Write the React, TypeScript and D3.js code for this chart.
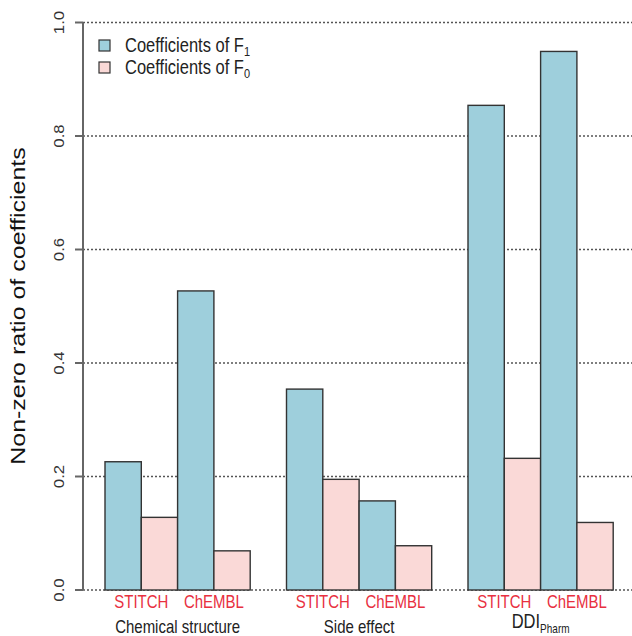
import React from "react";
import * as d3 from "d3";

// Groups of drug-feature sources, each with STITCH and ChEMBL targets
const groups = ["Chemical structure", "Side effect", "DDI"];
const targets = ["STITCH", "ChEMBL"];
// Non-zero ratio of coefficients, one value per group × target
const f1Values = [0.226, 0.527, 0.354, 0.157, 0.854, 0.949];
const f0Values = [0.128, 0.069, 0.195, 0.078, 0.232, 0.119];
const yTicks = [0, 0.2, 0.4, 0.6, 0.8, 1.0];

const W = 632;
const H = 636;
const FONT = "'Liberation Sans', Arial, sans-serif";
const BLUE = "#9ecfdc";
const PINK = "#fad9d7";
const RED = "#e8303f";
// glyphs are drawn slightly taller than wide
const STRETCH = 1.2;

export default function App() {
  // bar slots: each group = leading gap (1) + 4 bars
  const x = d3.scaleLinear().domain([0, 15]).range([68.7, 613.2]);
  const y = d3.scaleLinear().domain([0, 1]).range([590, 22.5]);
  const axisX = 83;

  const bars: { v: number; fill: string; slot: number }[] = [];
  groups.forEach((_, g) => {
    targets.forEach((_, t) => {
      const idx = g * 2 + t;
      const base = g * 5 + 1 + t * 2;
      bars.push({ v: f1Values[idx], fill: BLUE, slot: base });
      bars.push({ v: f0Values[idx], fill: PINK, slot: base + 1 });
    });
  });

  return (
    <svg
      width={W}
      height={H}
      style={{ position: "absolute", left: 0, top: 0, background: "#fff" }}
      fontFamily={FONT}
    >
      {/* dotted gridlines behind bars */}
      {yTicks.map((t) => (
        <line
          key={"g" + t}
          x1={axisX}
          x2={W}
          y1={y(t)}
          y2={y(t)}
          stroke="#555"
          strokeWidth={1.3}
          strokeDasharray="2,2"
        />
      ))}

      {bars.map((b, i) => (
        <rect
          key={i}
          x={x(b.slot)}
          y={y(b.v)}
          width={x(b.slot + 1) - x(b.slot)}
          height={y(0) - y(b.v)}
          fill={b.fill}
          stroke="#333"
          strokeWidth={1.4}
        />
      ))}

      {/* y axis */}
      <line x1={axisX} x2={axisX} y1={y(0)} y2={y(1)} stroke="#666" strokeWidth={2} />
      {yTicks.map((t) => (
        <g key={"t" + t}>
          <line x1={axisX - 8} x2={axisX} y1={y(t)} y2={y(t)} stroke="#666" strokeWidth={2} />
          <text
            transform={`translate(${64},${y(t)}) rotate(-90) scale(${STRETCH},1)`}
            textAnchor="middle"
            fontSize={14}
            fill="#333"
          >
            {t.toFixed(1)}
          </text>
        </g>
      ))}

      <text
        transform={`translate(${25},${306}) rotate(-90) scale(1.25,1)`}
        textAnchor="middle"
        fontSize={20}
        fill="#111"
      >
        Non-zero ratio of coefficients
      </text>

      {/* target and group labels */}
      {groups.map((g, gi) =>
        targets.map((t, ti) => {
          const s = gi * 5 + 1 + ti * 2;
          return (
            <text
              key={g + t}
              transform={`translate(${x(s + 1)},${608}) scale(1,${STRETCH})`}
              textAnchor="middle"
              fontSize={15}
              fill={RED}
            >
              {t}
            </text>
          );
        })
      )}
      {groups.map((g, gi) => {
        const cx = x(gi * 5 + 3);
        return g === "DDI" ? (
          <text
            key={g}
            transform={`translate(${cx},${628}) scale(1,${STRETCH})`}
            textAnchor="middle"
            fontSize={16.5}
            fill="#222"
          >
            DDI
            <tspan fontSize={10} dy={4}>
              Pharm
            </tspan>
          </text>
        ) : (
          <text
            key={g}
            transform={`translate(${cx},${633}) scale(1,${STRETCH})`}
            textAnchor="middle"
            fontSize={15}
            fill="#222"
          >
            {g}
          </text>
        );
      })}

      {/* legend */}
      {[
        { fill: BLUE, sub: "1" },
        { fill: PINK, sub: "0" },
      ].map((l, i) => (
        <g key={l.sub} transform={`translate(0,${46 + i * 22})`}>
          <rect x={99} y={-6} width={11} height={11} fill={l.fill} stroke="#333" strokeWidth={1.2} />
          <text
            transform={`translate(125,6) scale(1,${STRETCH})`}
            fontSize={16.5}
            fill="#222"
          >
            Coefficients of F
            <tspan fontSize={11} dy={3}>
              {l.sub}
            </tspan>
          </text>
        </g>
      ))}
    </svg>
  );
}
